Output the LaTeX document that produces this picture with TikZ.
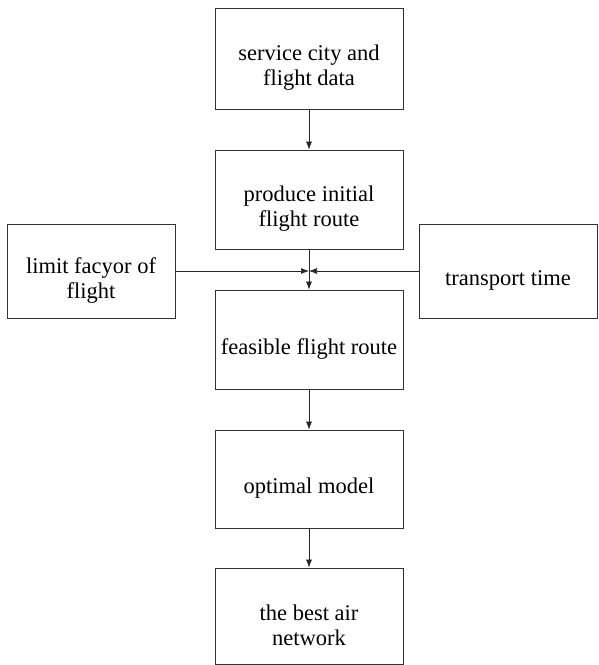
\documentclass[tikz,border=0pt]{standalone}
\usepackage{fontspec}
\setmainfont{Liberation Serif}
\usetikzlibrary{arrows.meta}
% strut that sets the text a little below the middle of its box
\newcommand{\lowtext}{\rule{0pt}{34pt}}
\tikzset{
  stepbox/.style={draw=black!80,line width=0.8pt,align=center,inner sep=1pt,
    font=\fontsize{22.5}{25}\selectfont},
  flow/.style={draw=black!85,line width=0.7pt,-{Latex[length=8pt,width=6pt]}}
}
\begin{document}
\begin{tikzpicture}[x=1pt,y=-1pt]
  \useasboundingbox (0,0) rectangle (599,665);
  % main column
  \node[stepbox,minimum width=188pt,minimum height=101pt] (data) at (309,58.5) {\lowtext service city and\\flight data};
  \node[stepbox,minimum width=188pt,minimum height=99pt] (initial) at (309,199.5) {\lowtext produce initial\\flight route};
  \node[stepbox,minimum width=188pt,minimum height=99pt] (feasible) at (309,339.5) {\lowtext feasible flight route};
  \node[stepbox,minimum width=188pt,minimum height=98pt] (model) at (309,479) {\lowtext optimal model};
  \node[stepbox,minimum width=188pt,minimum height=96pt] (network) at (309,616) {\lowtext the best air\\network};
  % side boxes
  \node[stepbox,minimum width=168pt,minimum height=94pt] (limit) at (91,271) {\lowtext limit facyor of\\flight};
  \node[stepbox,minimum width=178pt,minimum height=94pt] (ttime) at (508,271) {\lowtext transport time};
  \coordinate (j) at (309,271);
  \draw[flow] (data) -- (initial);
  \draw[flow] (initial) -- (feasible);
  \draw[flow] (limit) -- (j);
  \draw[flow] (ttime) -- (j);
  \draw[flow] (feasible) -- (model);
  \draw[flow] (model) -- (network);
\end{tikzpicture}
\end{document}
